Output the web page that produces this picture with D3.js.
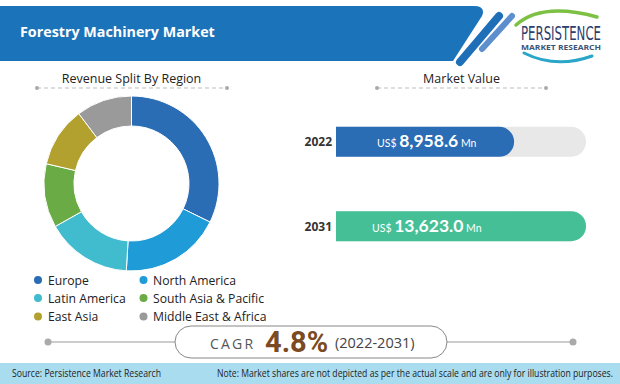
<!DOCTYPE html>
<html lang="en">
<head>
<meta charset="UTF-8">
<title>Forestry Machinery Market</title>
<script src="https://d3js.org/d3.v7.min.js"></script>
<style>
  body { margin: 0; background: #fff; }
  svg { display: block; font-family: "Open Sans", "Noto Sans", sans-serif; }
</style>
</head>
<body>
<div id="chart"></div>
<script>
const regions = ["Europe", "North America", "Latin America", "South Asia & Pacific", "East Asia", "Middle East & Africa"];
const shares = [32.3, 18.7, 15.9, 11.8, 11.1, 10.3];
const regionColors = ["#2a6db5", "#1f9bd8", "#41bccf", "#6aab45", "#b3a12f", "#9a9a9a"];

// market value bars
const years = ["2022", "2031"];
const values = [8958.6, 13623.0];
const valueLabels = ["8,958.6", "13,623.0"];
const barColors = ["#2a6db5", "#45bf96"];

const cagr = "4.8%";
const cagrPeriod = "(2022-2031)";

const W = 620, H = 384;
const svg = d3.select("#chart").append("svg")
  .attr("width", W).attr("height", H);

// ---- header band
svg.append("path")
  .attr("d", "M0,6 L474,6 Q486,6 482,16 L453,61 L0,61 Z")
  .attr("fill", "#1b73b9");
svg.append("line")
  .attr("x1", 460).attr("y1", 62).attr("x2", 499).attr("y2", 16)
  .attr("stroke", "#1f6fb8").attr("stroke-width", 8).attr("stroke-linecap", "round");
svg.append("line")
  .attr("x1", 482).attr("y1", 49).attr("x2", 512).attr("y2", 16)
  .attr("stroke", "#5d8fcf").attr("stroke-width", 6).attr("stroke-linecap", "round");
svg.append("text")
  .attr("x", 20).attr("y", 37)
  .attr("fill", "#fff").attr("font-size", 14.3).attr("font-weight", "bold")
  .text("Forestry Machinery Market");

// ---- logo
const logo = svg.append("g");
logo.append("path")
  .attr("d", "M516,25 Q542,2 597,17")
  .attr("fill", "none").attr("stroke", "#7cc143").attr("stroke-width", 3.5).attr("stroke-linecap", "round");
logo.append("path")
  .attr("d", "M524,53 Q556,69 592,56")
  .attr("fill", "none").attr("stroke", "#2aa6c9").attr("stroke-width", 3).attr("stroke-linecap", "round");
logo.append("text")
  .attr("x", 521).attr("y", 40)
  .attr("textLength", 80).attr("lengthAdjust", "spacingAndGlyphs")
  .attr("fill", "#2c3d6b").attr("font-size", 19).attr("font-family", "DejaVu Sans Condensed, sans-serif")
  .text("PERSISTENCE");
logo.append("text")
  .attr("x", 521).attr("y", 49.5)
  .attr("textLength", 80).attr("lengthAdjust", "spacingAndGlyphs")
  .attr("fill", "#3a5575").attr("font-size", 6.2).attr("font-weight", "bold")
  .text("MARKET RESEARCH");

// ---- section titles with dashed rules
function sectionTitle(cx, x0, x1, label) {
  svg.append("text")
    .attr("x", cx).attr("y", 83).attr("text-anchor", "middle")
    .attr("fill", "#222").attr("font-size", 12.5)
    .text(label);
  svg.append("line")
    .attr("x1", x0).attr("x2", x1).attr("y1", 88).attr("y2", 88)
    .attr("stroke", "#bbb").attr("stroke-dasharray", "4,3");
  [x0, x1].forEach(x => svg.append("circle").attr("cx", x).attr("cy", 88).attr("r", 2).attr("fill", "#aaa"));
}
sectionTitle(131.5, 37, 227, "Revenue Split By Region");
sectionTitle(461.5, 377, 546, "Market Value");

// ---- donut
const pie = d3.pie().sort(null).value(d => d);
const arc = d3.arc().innerRadius(57.5).outerRadius(87.5);
const donut = svg.append("g").attr("transform", "translate(131.5,183.5)");
donut.selectAll("path")
  .data(pie(shares))
  .join("path")
  .attr("d", arc)
  .attr("fill", (d, i) => regionColors[i])
  .attr("stroke", "#fff").attr("stroke-width", 1);

// ---- legend
const legend = svg.append("g");
const legX = [38, 143.5], legTextX = [48, 153], legY = [280, 298, 316.5];
regions.forEach((r, i) => {
  const col = i % 2, row = Math.floor(i / 2);
  legend.append("circle")
    .attr("cx", legX[col]).attr("cy", legY[row]).attr("r", 4)
    .attr("fill", regionColors[i]);
  legend.append("text")
    .attr("x", legTextX[col]).attr("y", legY[row] + 4.5)
    .attr("fill", "#222").attr("font-size", 12.2)
    .text(r);
});

// ---- market value bars
const x = d3.scaleLinear().domain([-2600, d3.max(values)]).range([336, 586]);
const y = d3.scaleBand().domain(years).range([114, 254]).paddingInner(1.33).paddingOuter(0.33);
const bh = 30;

function barPath(x0, x1, top, h) {
  const r = h / 2;
  return `M${x0},${top} L${x1 - r},${top} A${r},${r} 0 0 1 ${x1 - r},${top + h} L${x0},${top + h} Z`;
}

const bars = svg.append("g");
years.forEach((yr, i) => {
  const top = y(yr) + y.bandwidth() / 2 - bh / 2;
  const cy = top + bh / 2;
  bars.append("path")
    .attr("d", barPath(x.range()[0], x.range()[1], top, bh))
    .attr("fill", "#e8e8e8");
  bars.append("path")
    .attr("d", barPath(x.range()[0], x(values[i]), top, bh))
    .attr("fill", barColors[i]);
  bars.append("text")
    .attr("x", 332).attr("y", cy + 4.5).attr("text-anchor", "end")
    .attr("fill", "#333").attr("font-size", 12).attr("font-weight", "bold")
    .text(yr);
  const t = bars.append("text")
    .attr("x", i === 0 ? 377 : 372).attr("y", cy + 5.5)
    .attr("fill", "#fff").attr("font-family", "Lato, sans-serif");
  t.append("tspan").attr("font-size", 10.5).text("US$ ");
  t.append("tspan").attr("font-size", 17.5).attr("font-weight", "bold").text(valueLabels[i]);
  t.append("tspan").attr("font-size", 10.5).text(" Mn");
});

// ---- CAGR pill
const cagrY = 342;
svg.append("line").attr("x1", 48).attr("x2", 175).attr("y1", cagrY).attr("y2", cagrY)
  .attr("stroke", "#999").attr("stroke-width", 1);
svg.append("line").attr("x1", 447).attr("x2", 573).attr("y1", cagrY).attr("y2", cagrY)
  .attr("stroke", "#999").attr("stroke-width", 1);
svg.append("circle").attr("cx", 48).attr("cy", cagrY).attr("r", 3.5).attr("fill", "#aaa");
svg.append("circle").attr("cx", 573).attr("cy", cagrY).attr("r", 3.5).attr("fill", "#aaa");
svg.append("rect")
  .attr("x", 175).attr("y", 326).attr("width", 272).attr("height", 32).attr("rx", 16)
  .attr("fill", "#fff").attr("stroke", "#888").attr("stroke-width", 1);
svg.append("text")
  .attr("x", 210).attr("y", 348.5)
  .attr("fill", "#555").attr("font-size", 14).attr("letter-spacing", 2.2)
  .text("CAGR");
svg.append("text")
  .attr("x", 265).attr("y", 351.5)
  .attr("fill", "#7a4b22").attr("font-size", 29).attr("font-weight", "bold")
  .attr("font-family", "Roboto, sans-serif")
  .text(cagr);
svg.append("text")
  .attr("x", 335).attr("y", 348)
  .attr("fill", "#444").attr("font-size", 14.5)
  .text(cagrPeriod);

// ---- footer
svg.append("rect").attr("x", 0).attr("y", 363).attr("width", W).attr("height", 21)
  .attr("fill", "#aadcf0");
svg.append("text")
  .attr("x", 12).attr("y", 377).attr("fill", "#222").attr("font-size", 10)
  .attr("textLength", 149).attr("lengthAdjust", "spacingAndGlyphs")
  .text("Source: Persistence Market Research");
svg.append("text")
  .attr("x", 217).attr("y", 377).attr("fill", "#222").attr("font-size", 10)
  .attr("textLength", 396).attr("lengthAdjust", "spacingAndGlyphs")
  .text("Note: Market shares are not depicted as per the actual scale and are only for illustration purposes.");
</script>
</body>
</html>
